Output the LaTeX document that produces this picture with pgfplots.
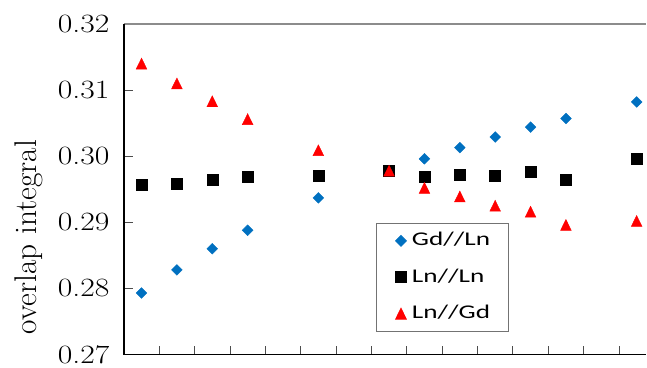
\documentclass[border=0pt]{standalone}
\usepackage{fontspec}
\usepackage{pgfplots}
\pgfplotsset{compat=1.18}
\newfontfamily\carlito{Carlito}
\definecolor{xlblue}{RGB}{0,112,192}
\definecolor{xlred}{RGB}{255,0,0}
\definecolor{topgray}{RGB}{140,140,140}
\begin{document}
\begin{tikzpicture}
\begin{axis}[name=ax, width=523bp, height=331bp, scale only axis,
 xmin=0, xmax=14.77, ymin=0.27, ymax=0.32,
 axis line style={draw=none},
 xtick={1,...,14}, xticklabels={},
 ytick={0.27,0.28,0.29,0.30,0.31,0.32},
 tick align=inside, xtick pos=bottom, ytick pos=left,
 major tick length=9bp,
 tick style={black!70, line width=0.8bp},
 /pgf/number format/assume math mode=true,
 yticklabel={\scalebox{1.2}[1]{\pgfmathprintnumber[fixed,fixed zerofill,precision=2]{\tick}}},
 yticklabel style={font=\fontsize{26.5}{31}\selectfont, xshift=-11bp},
 ylabel={overlap integral},
 ylabel style={font=\fontsize{31.5}{38}\selectfont, at={(ticklabel cs:0.355)}, yshift=8bp},
 clip=false,
 legend style={at={(0.482,0.398)}, anchor=north west, draw=black!55, line width=0.8bp,
   font=\carlito\fontsize{19.5}{23}\selectfont, inner xsep=16bp, inner ysep=7.5bp, row sep=16.5bp,
   nodes={inner sep=2bp, text height=13bp, text depth=3bp}},
 legend cell align=left,
 legend image code/.code={\path[draw=none] (0bp,-1bp) rectangle (18bp,1bp); \draw[only marks, mark repeat=2,mark phase=2] plot coordinates {(0bp,0bp)(9bp,0bp)(18bp,0bp)};},
]
\addplot[only marks, color=xlblue, mark=square*, mark size=3.8bp, mark options={rotate=45, draw=none, fill=xlblue}] coordinates {
(0.5,0.2793) (1.5,0.2828) (2.5,0.2860) (3.5,0.2888) (5.5,0.2937) (7.5,0.2978)
(8.5,0.2996) (9.5,0.3013) (10.5,0.3029) (11.5,0.3044) (12.5,0.3057) (14.5,0.3082)};
\addlegendentry{\scalebox{1.4}[1]{Gd//Ln}}
\addplot[only marks, color=black, mark=square*, mark size=5.5bp, mark options={draw=none, fill=black}] coordinates {
(0.5,0.2957) (1.5,0.2958) (2.5,0.2965) (3.5,0.2969) (5.5,0.2971) (7.5,0.2978)
(8.5,0.2969) (9.5,0.2972) (10.5,0.2971) (11.5,0.2977) (12.5,0.2964) (14.5,0.2996)};
\addlegendentry{\scalebox{1.4}[1]{Ln//Ln}}
\addplot[only marks, color=xlred, mark=triangle*, mark size=7.3bp, mark options={xscale=0.85, yshift=-1.8bp, draw=none, fill=xlred}] coordinates {
(0.5,0.3140) (1.5,0.3110) (2.5,0.3083) (3.5,0.3056) (5.5,0.3009) (7.5,0.2978)
(8.5,0.2952) (9.5,0.2939) (10.5,0.2925) (11.5,0.2916) (12.5,0.2896) (14.5,0.2902)};
\addlegendentry{\scalebox{1.4}[1]{Ln//Gd}}
\draw[topgray, line width=1.6bp] (rel axis cs:0,1) -- (rel axis cs:1,1);
\draw[black, line width=1.6bp] (rel axis cs:0,1) -- (rel axis cs:0,0) -- (rel axis cs:1,0);
\end{axis}
\path ([xshift=-124bp,yshift=-12bp]ax.south west) rectangle ([yshift=24bp]ax.north east);
\end{tikzpicture}
\end{document}
